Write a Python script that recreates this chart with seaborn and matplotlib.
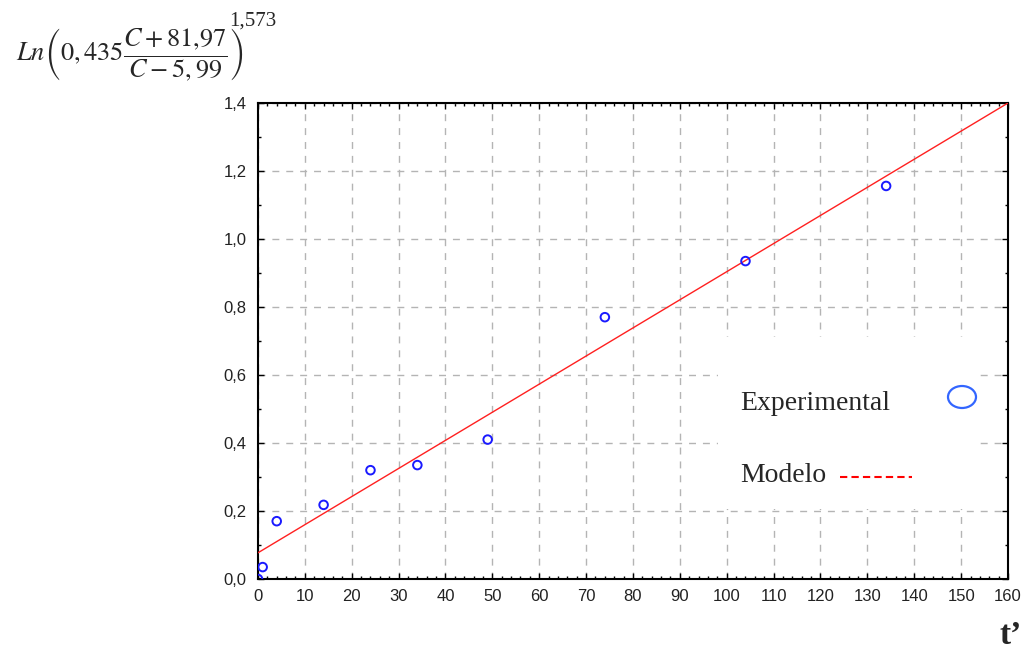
import matplotlib
matplotlib.use("Agg")
import matplotlib.pyplot as plt
from matplotlib.patches import Rectangle, Ellipse
from matplotlib.lines import Line2D
from matplotlib.ticker import MultipleLocator, FuncFormatter
import seaborn as sns
import pandas as pd

# Experimental points
t_exp = [0, 1, 4, 14, 24, 34, 49, 74, 104, 134]
y_exp = [0.0, 0.035, 0.17, 0.218, 0.32, 0.335, 0.41, 0.77, 0.935, 1.156]

# Fitted model line
t_model = [0, 160]
y_model = [0.077, 1.40]

x_ticks = list(range(0, 161, 10))
y_ticks = [0.0, 0.2, 0.4, 0.6, 0.8, 1.0, 1.2, 1.4]

sns.set_theme(style="white")
plt.rcParams["font.family"] = ["Liberation Sans", "DejaVu Sans"]
plt.rcParams["mathtext.fontset"] = "stix"

fig = plt.figure(figsize=(10.29, 6.56), dpi=100)
ax = fig.add_axes([0.2507, 0.1174, 0.7289, 0.7256])

df_exp = pd.DataFrame({"t": t_exp, "y": y_exp})
df_mod = pd.DataFrame({"t": t_model, "y": y_model})

sns.lineplot(data=df_mod, x="t", y="y", ax=ax, color="#ff2020", linewidth=1.0, zorder=4)
sns.scatterplot(data=df_exp, x="t", y="y", ax=ax, marker="o", s=38,
                facecolors="none", edgecolor="#1a1aff", linewidth=1.4, zorder=5)

ax.set_xlim(0, 160)
ax.set_ylim(0, 1.4)
ax.set_xticks(x_ticks)
ax.set_yticks(y_ticks)
ax.xaxis.set_minor_locator(MultipleLocator(2))
ax.yaxis.set_minor_locator(MultipleLocator(0.1))
ax.yaxis.set_major_formatter(FuncFormatter(lambda v, p: f"{v:.1f}".replace(".", ",")))
ax.tick_params(axis="both", which="both", direction="in", top=True, right=True,
               bottom=True, left=True, colors="black", labelsize=12)
ax.tick_params(which="major", length=4, width=1)
ax.tick_params(which="minor", length=2.5, width=1)
ax.tick_params(axis="x", pad=7)
ax.tick_params(axis="y", pad=8)
for lab in ax.get_xticklabels() + ax.get_yticklabels():
    lab.set_color("#222222")

ax.grid(True, which="major", color="#b4b4b4", linestyle=(0, (5, 5)), linewidth=1.0)
ax.set_axisbelow(True)
for s in ax.spines.values():
    s.set_color("black")
    s.set_linewidth(1.5)
ax.set_xlabel("")
ax.set_ylabel("")

# White panel behind the legend entries
ax.add_patch(Rectangle((98.1, 0.205), 55.3, 0.507, transform=ax.transData,
                       facecolor="white", edgecolor="none", zorder=2))

# Legend entries
fig.text(740 / 1029, 1 - 404 / 656, "Experimental", family="Liberation Serif",
         fontsize=20, va="center", ha="left")
fig.patches.append(Ellipse((962 / 1029, 1 - 397 / 656), 28 / 1029, 22 / 656,
                           transform=fig.transFigure, facecolor="none",
                           edgecolor="#3366ff", linewidth=1.6))
fig.text(740 / 1029, 1 - 476 / 656, "Modelo", family="Liberation Serif",
         fontsize=20, va="center", ha="left")
fig.lines.append(Line2D([840 / 1029, 912 / 1029], [1 - 477 / 656, 1 - 477 / 656],
                        transform=fig.transFigure, color="red", linewidth=1.5,
                        linestyle=(0, (3.5, 2))))

# Y-axis expression and its exponent
fig.text(16 / 1029, 1 - 55 / 656,
         r"$Ln\left(0,435\dfrac{C+81{,}97}{C-5,99}\right)$",
         fontsize=19, va="center", ha="left")
fig.text(229 / 1029, 1 - 12 / 656, "1,573", family="Liberation Serif",
         fontsize=15, va="top", ha="left")
fig.text(1000 / 1029, 1 - 636 / 656, "t’", family="Liberation Serif",
         fontsize=24, fontweight="bold", va="center", ha="left")

fig.savefig("out.png", dpi=100, facecolor="white")
